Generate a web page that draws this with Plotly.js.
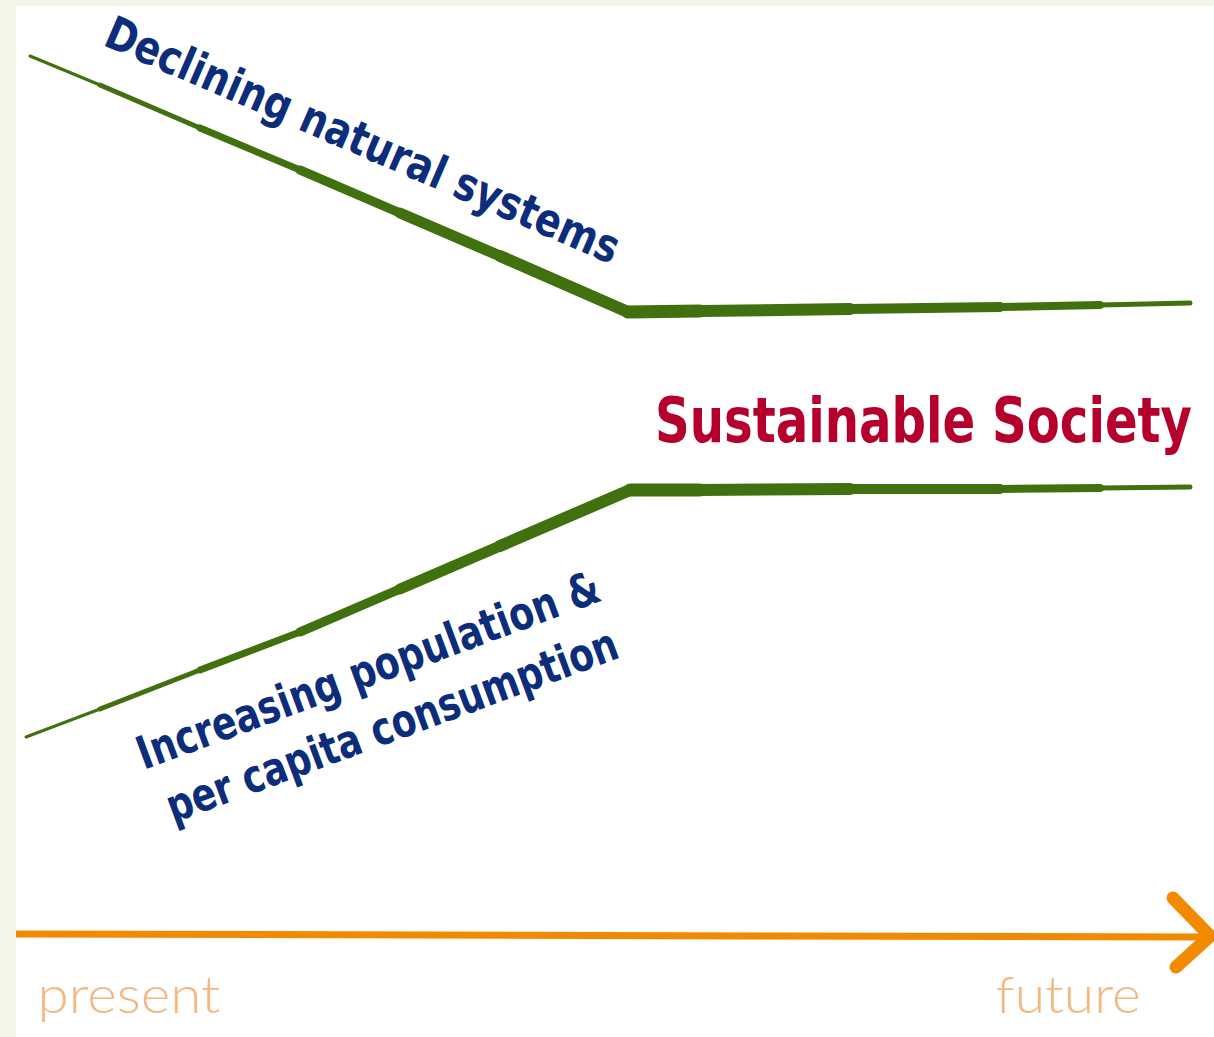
<!DOCTYPE html>
<html>
<head>
<meta charset="utf-8">
<script src="https://cdn.plot.ly/plotly-3.0.1.min.js"></script>
<style>
html,body{margin:0;padding:0;background:#f3f5e7;}
#chart{width:1214px;height:1037px;}
.js-line{stroke-linecap:round;stroke-linejoin:round;}
</style>
</head>
<body>
<div id="chart"></div>
<script>
// Conceptual time axis (present -> future) and levels, in diagram units
var naturalTime  = [30, 100, 200, 300, 400, 500, 628, 700, 850, 1000, 1100, 1190];
var naturalLevel = [56, 85, 128, 170, 213, 256, 312, 311, 309, 307, 305, 303];
var naturalWidth = [3, 5, 7, 9, 11, 12, 13, 12, 10, 8, 5];

var demandTime  = [26, 100, 200, 300, 400, 500, 630, 700, 850, 1000, 1100, 1190];
var demandLevel = [737, 709, 670, 632, 589, 546, 490, 490, 489, 489, 488, 487];
var demandWidth = [3, 5, 7, 9, 11, 12, 13, 12, 10, 8, 5];

var timeAxisX = [16, 600, 1205];
var timeAxisY = [934, 936, 937];
var arrowHeadX = [1173, 1210, 1176];
var arrowHeadY = [898, 936, 967];

var labels = {
  natural: "Declining natural systems",
  demand1: "Increasing population &",
  demand2: "per capita consumption",
  goal: "Sustainable Society",
  present: "present",
  future: "future"
};
// text lengths along the baseline
var labelLength = [555, 490, 478, 537, 183, 145];

var green = '#41700f';
var traces = [];
function addTapered(xs, ys, ws) {
  for (var i = 0; i < xs.length - 1; i++) {
    traces.push({
      type: 'scatter', mode: 'lines',
      x: [xs[i], xs[i+1]], y: [ys[i], ys[i+1]],
      line: {color: green, width: ws[i]},
      hoverinfo: 'skip', showlegend: false
    });
  }
}
addTapered(naturalTime, naturalLevel, naturalWidth);
addTapered(demandTime, demandLevel, demandWidth);

traces.push({
  type: 'scatter', mode: 'lines', x: timeAxisX, y: timeAxisY,
  line: {color: '#f28a00', width: 7}, hoverinfo: 'skip', showlegend: false
});
traces.push({
  type: 'scatter', mode: 'lines', x: arrowHeadX, y: arrowHeadY,
  line: {color: '#f28a00', width: 13}, hoverinfo: 'skip', showlegend: false
});

var navy = '#0c2d7a';
var blueFont = {family: 'DejaVu Sans', size: 46, color: navy, weight: 'bold', stretch: 'condensed'};
var layout = {
  width: 1214, height: 1037,
  margin: {l: 16, r: 0, t: 6, b: 0},
  paper_bgcolor: '#f3f5e7',
  plot_bgcolor: '#ffffff',
  xaxis: {range: [16, 1214], visible: false, fixedrange: true},
  yaxis: {range: [1037, 6], visible: false, fixedrange: true},
  showlegend: false,
  annotations: [
    {x: 363, y: 140, xref: 'x', yref: 'y', text: labels.natural,
     showarrow: false, textangle: 23.3, xanchor: 'center', yanchor: 'middle', font: blueFont},
    {x: 368, y: 670, xref: 'x', yref: 'y', text: labels.demand1,
     showarrow: false, textangle: -20.3, xanchor: 'center', yanchor: 'middle', font: blueFont},
    {x: 392, y: 725, xref: 'x', yref: 'y', text: labels.demand2,
     showarrow: false, textangle: -20.3, xanchor: 'center', yanchor: 'middle', font: blueFont},
    {x: 923, y: 420, xref: 'x', yref: 'y', text: labels.goal,
     showarrow: false, xanchor: 'center', yanchor: 'middle',
     font: {family: 'DejaVu Sans', size: 62, color: '#b5002e', weight: 'bold', stretch: 'condensed'}},
    {x: 129, y: 993, xref: 'x', yref: 'y', text: labels.present,
     showarrow: false, xanchor: 'center', yanchor: 'middle',
     font: {family: 'Lato, sans-serif', size: 52, color: '#f6b680', weight: 300}},
    {x: 1068, y: 993, xref: 'x', yref: 'y', text: labels.future,
     showarrow: false, xanchor: 'center', yanchor: 'middle',
     font: {family: 'Lato, sans-serif', size: 52, color: '#f6b680', weight: 300}}
  ]
};

Plotly.newPlot('chart', traces, layout, {displayModeBar: false, staticPlot: true}).then(function(gd) {
  var texts = gd.querySelectorAll('.annotation-text');
  for (var i = 0; i < texts.length && i < labelLength.length; i++) {
    texts[i].setAttribute('textLength', labelLength[i]);
    texts[i].setAttribute('lengthAdjust', 'spacingAndGlyphs');
  }
});
</script>
</body>
</html>
